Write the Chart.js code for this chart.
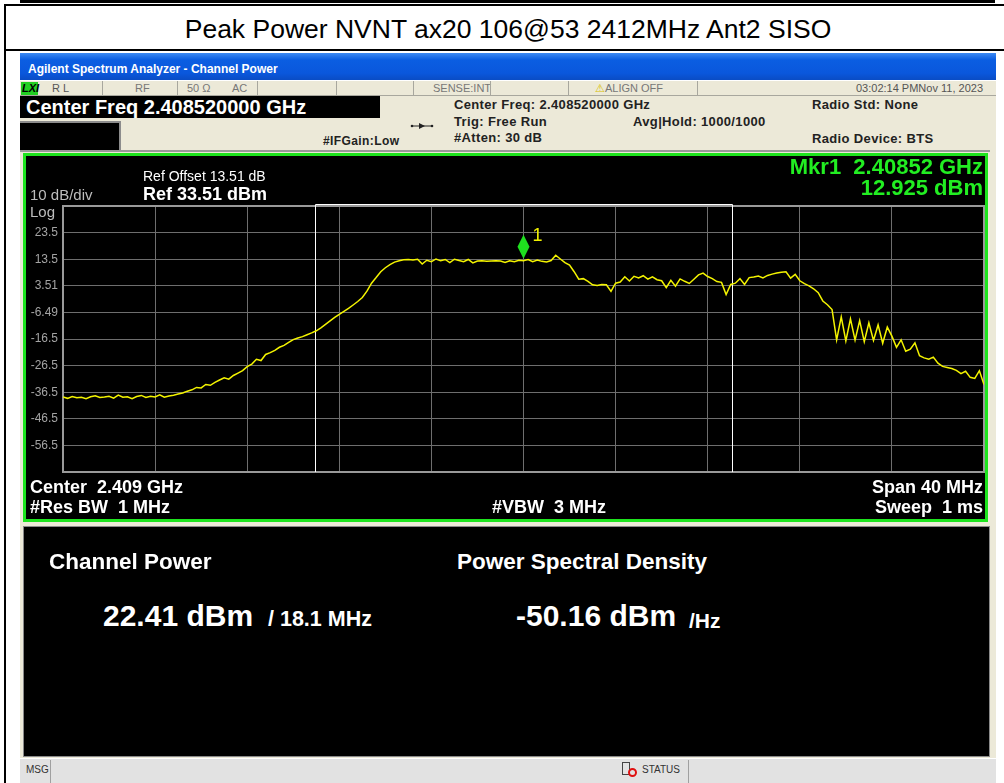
<!DOCTYPE html>
<html>
<head>
<meta charset="utf-8">
<script src="https://cdn.jsdelivr.net/npm/chart.js@4/dist/chart.umd.min.js"></script>
<style>
html, body { margin: 0; padding: 0; background: #fff; }
body { width: 1004px; height: 783px; position: relative; overflow: hidden;
       font-family: "Liberation Sans", Arial, sans-serif; }
.a { position: absolute; white-space: nowrap; }
.t { position: absolute; white-space: nowrap; transform: translateY(-50%); line-height: 1; }
.r { transform: translate(-100%, -50%); }
.b { font-weight: bold; }
.info { font-size: 13px; letter-spacing: 0.35px; color: #222; font-weight: bold; }
.sep { position: absolute; top: 81px; width: 1px; height: 14px; background: #a8a79e; }
#plot { position: absolute; left: 26px; top: 156px; }
</style>
</head>
<body>
<!-- document frame -->
<div class="a" style="left:20px;top:0;width:975px;height:3px;background:#000"></div>
<div class="a" style="left:5px;top:4px;width:999px;height:2px;background:#000"></div>
<div class="a" style="left:5px;top:49px;width:999px;height:2px;background:#000"></div>
<div class="a" style="left:4px;top:4px;width:2px;height:779px;background:#000"></div>
<div class="t" style="left:508px;top:29px;font-size:26.5px;color:#000;transform:translate(-50%,-50%)">Peak Power NVNT ax20 106@53 2412MHz Ant2 SISO</div>

<!-- analyser window -->
<div class="a" style="left:20px;top:53px;width:976px;height:730px;background:#ece9d8"></div>
<div class="a" style="left:20px;top:53px;width:976px;height:27px;background:linear-gradient(#3c8af3,#0b5ee2 25%,#0a57dc 75%,#0a4cc4)"></div>
<div class="t b" style="left:28px;top:69px;font-size:12px;color:#fff">Agilent Spectrum Analyzer - Channel Power</div>

<!-- status row -->
<div class="a" style="left:20px;top:80px;width:976px;height:1px;background:#fff"></div>
<div class="a" style="left:20px;top:95px;width:976px;height:1px;background:#a8a79e"></div>
<div class="a" style="left:21px;top:82px;width:17px;height:13px;background:#22d022"></div>
<div class="t b" style="left:22px;top:88px;font-size:11px;font-style:italic;color:#000">LXI</div>
<div class="t" style="left:52px;top:88px;font-size:11px;color:#555">R L</div>
<div class="sep" style="left:102px"></div>
<div class="t" style="left:135px;top:88px;font-size:11px;color:#777">RF</div>
<div class="sep" style="left:177px"></div>
<div class="t" style="left:187px;top:88px;font-size:11px;color:#777">50 Ω</div>
<div class="t" style="left:232px;top:88px;font-size:11px;color:#777">AC</div>
<div class="sep" style="left:257px"></div>
<div class="sep" style="left:336px"></div>
<div class="sep" style="left:413px"></div>
<div class="t" style="left:433px;top:88px;font-size:11px;color:#777">SENSE:INT</div>
<div class="sep" style="left:490px"></div>
<div class="sep" style="left:568px"></div>
<div class="t" style="left:595px;top:88px;font-size:11px;color:#777"><span style="color:#d8c000">⚠</span>ALIGN OFF</div>
<div class="sep" style="left:697px"></div>
<div class="t r" style="left:983px;top:88px;font-size:11px;color:#555">03:02:14 PMNov 11, 2023</div>

<!-- info block -->
<div class="a" style="left:20px;top:96px;width:360px;height:22px;background:#000"></div>
<div class="t b" style="left:26px;top:107px;font-size:20px;color:#fff">Center Freq 2.408520000 GHz</div>
<div class="a" style="left:20px;top:121px;width:99px;height:27px;background:#000;border-top:2px solid #8c8c8c;border-right:2px solid #8c8c8c"></div>
<div class="t b" style="left:323px;top:141px;font-size:12px;letter-spacing:0.4px;color:#222">#IFGain:Low</div>
<svg class="a" style="left:410px;top:122px" width="24" height="8">
  <line x1="1" y1="4" x2="23" y2="4" stroke="#222" stroke-width="1"/>
  <polygon points="9,1 15,4 9,7" fill="#222"/>
  <circle cx="2" cy="4" r="1.3" fill="#222"/><circle cx="22" cy="4" r="1.3" fill="#222"/>
</svg>
<div class="t info" style="left:454px;top:104px">Center Freq: 2.408520000 GHz</div>
<div class="t info" style="left:454px;top:121px">Trig: Free Run</div>
<div class="t info" style="left:454px;top:137px">#Atten: 30 dB</div>
<div class="t info" style="left:633px;top:121px">Avg|Hold: 1000/1000</div>
<div class="t info" style="left:812px;top:104px">Radio Std: None</div>
<div class="t info" style="left:812px;top:138px">Radio Device: BTS</div>

<!-- trace panel -->
<div class="a" style="left:20px;top:150px;width:970px;height:2px;background:#9a9a9a"></div>
<div class="a" style="left:23px;top:153px;width:965px;height:369px;box-sizing:border-box;border:3px solid #1ee41e;background:#000"></div>
<canvas id="plot" width="959" height="363"></canvas>
<div class="t" style="left:143px;top:176px;font-size:14px;color:#fff">Ref Offset 13.51 dB</div>
<div class="t b" style="left:143px;top:194px;font-size:18px;color:#fff">Ref 33.51 dBm</div>
<div class="t" style="left:30px;top:194px;font-size:15px;color:#bdbdbd">10 dB/div</div>
<div class="t" style="left:30px;top:211px;font-size:15px;color:#bdbdbd">Log</div>
<div class="t b r" style="left:983px;top:167px;font-size:22px;color:#22ee22">Mkr1&nbsp; 2.40852 GHz</div>
<div class="t b r" style="left:983px;top:188px;font-size:22px;color:#22ee22">12.925 dBm</div>
<div class="t b" style="left:30px;top:487px;font-size:18px;color:#fff">Center&nbsp; 2.409 GHz</div>
<div class="t b" style="left:30px;top:507px;font-size:18px;color:#fff">#Res BW&nbsp; 1 MHz</div>
<div class="t b" style="left:492px;top:507px;font-size:18px;color:#fff">#VBW&nbsp; 3 MHz</div>
<div class="t b r" style="left:983px;top:487px;font-size:18px;color:#fff">Span 40 MHz</div>
<div class="t b r" style="left:983px;top:507px;font-size:18px;color:#fff">Sweep&nbsp; 1 ms</div>

<!-- result panel -->
<div class="a" style="left:23px;top:526px;width:967px;height:231px;box-sizing:border-box;border:1px solid #8a8a8a;background:#000"></div>
<div class="t b" style="left:49px;top:562px;font-size:22.5px;color:#fff">Channel Power</div>
<div class="t b" style="left:103px;top:616px;font-size:30px;color:#fff">22.41 dBm</div>
<div class="t b" style="left:268px;top:620px;font-size:21.5px;color:#fff">/ 18.1 MHz</div>
<div class="t b" style="left:457px;top:562px;font-size:22.5px;color:#fff">Power Spectral Density</div>
<div class="t b" style="left:516px;top:616px;font-size:30px;color:#fff">-50.16 dBm</div>
<div class="t b" style="left:689px;top:620px;font-size:21px;color:#fff">/Hz</div>

<!-- message bar -->
<div class="a" style="left:20px;top:758px;width:976px;height:25px;background:#e2e2e2;border-top:1px solid #fff"></div>
<div class="a" style="left:50px;top:760px;width:1px;height:23px;background:#a0a0a0"></div>
<div class="t" style="left:26px;top:770px;font-size:10px;color:#333">MSG</div>
<div class="a" style="left:622px;top:762px;width:8px;height:13px;border:1px solid #444;box-sizing:border-box"></div>
<div class="a" style="left:628px;top:768px;width:9px;height:9px;border-radius:50%;border:2px solid #e01010;box-sizing:border-box"></div>
<div class="t" style="left:642px;top:770px;font-size:10px;color:#333">STATUS</div>
<div class="a" style="left:688px;top:760px;width:1px;height:23px;background:#a0a0a0"></div>

<script>
// Sweep: 2.389 .. 2.429 GHz, trace read every 0.2 MHz
const SPAN_START_GHZ = 2.389;
const SPAN_STOP_GHZ = 2.429;
const TRACE_STEP_GHZ = 0.0002;

const traceDbm = [
    -38.3, -38.8, -38.1, -38.6, -38.4, -38.9, -38.2, -37.8, -38.5, -38.3,
    -38.0, -38.7, -37.6, -38.4, -38.2, -38.9, -38.1, -37.7, -38.5, -38.0,
    -38.3, -37.5, -38.4, -37.9, -37.6, -37.2, -36.8, -36.1, -35.6, -34.7,
    -34.9, -33.6, -33.9, -32.8, -31.9, -31.1, -31.6, -30.2, -29.3, -28.4,
    -26.9, -25.9, -24.1, -24.6, -22.3, -21.6, -20.8, -19.6, -18.9, -17.8,
    -16.7, -16.1, -15.6, -14.9, -14.2, -13.4, -12.3, -11.0, -9.7, -8.4,
    -7.2, -6.1, -5.0, -3.7, -2.4, -0.9, 1.5, 4.5, 6.6, 8.8,
    10.3, 11.5, 12.4, 12.9, 13.3, 13.4, 13.2, 13.5, 11.7, 13.1,
    12.6, 13.6, 12.9, 13.4, 12.2, 13.5, 13.0, 12.6, 13.4, 12.1,
    12.8, 12.9, 12.7, 12.8, 12.9, 12.8, 12.3, 12.9, 12.6, 13.1,
    12.9, 13.4, 12.6, 13.2, 12.7, 12.5, 13.0, 15.0, 13.6, 12.2,
    11.3, 8.8, 6.0, 6.2, 5.2, 3.9, 3.6, 4.0, 3.9, 1.4,
    4.5, 4.9, 6.9, 5.3, 7.1, 6.5, 7.3, 6.0, 6.9, 5.8,
    5.4, 2.8, 5.6, 3.4, 6.1, 5.2, 4.4, 6.0, 7.6, 8.3,
    7.0, 6.2, 5.1, 4.8, 0.2, 4.0, 4.5, 6.2, 4.0, 6.6,
    6.8, 7.2, 6.5, 7.4, 7.9, 8.3, 8.6, 8.8, 6.4, 7.8,
    5.4, 4.3, 3.5, 2.4, 0.9, -2.2, -3.6, -5.4, -16.8, -8.2,
    -17.2, -8.9, -16.9, -9.6, -17.5, -10.4, -17.0, -11.2, -18.1, -12.0,
    -15.4, -19.6, -16.8, -21.1, -20.3, -17.9, -22.8, -23.6, -24.1, -23.3,
    -25.6, -26.8, -27.2, -27.6, -28.3, -29.5, -28.6, -30.9, -31.3, -28.4,
    -33.6
];

// Graticule (10 dB/div, ref 33.51 dBm)
const yTickValues = [-66.49, -56.49, -46.49, -36.49, -26.49, -16.49, -6.49, 3.51, 13.51, 23.51, 33.51];
const yTickLabels = ['', '-56.5', '-46.5', '-36.5', '-26.5', '-16.5', '-6.49', '3.51', '13.5', '23.5', ''];
const xGridGHz = [2.389, 2.393, 2.397, 2.401, 2.405, 2.409, 2.413, 2.417, 2.421, 2.425, 2.429];

// Channel power integration edges (18.1 MHz) and marker 1
const channelEdgesGHz = [2.39995, 2.41805];
const markerGHz = 2.40900;
const markerDbm = 12.925;

const FONT = '"Liberation Sans", Arial, sans-serif';

// box + channel bracket
const graticulePlugin = {
    id: 'graticule',
    beforeDatasetsDraw(chart) {
        const { ctx, chartArea: a, scales } = chart;
        ctx.save();
        ctx.strokeStyle = '#9a9a9a';
        ctx.lineWidth = 2;
        ctx.strokeRect(a.left, a.top, a.right - a.left, a.bottom - a.top);

        const x1 = Math.round(scales.x.getPixelForValue(channelEdgesGHz[0])) + 0.5;
        const x2 = Math.round(scales.x.getPixelForValue(channelEdgesGHz[1])) + 0.5;
        ctx.strokeStyle = '#ffffff';
        ctx.lineWidth = 1;
        ctx.beginPath();
        ctx.moveTo(x1, a.bottom);
        ctx.lineTo(x1, a.top - 1.5);
        ctx.lineTo(x2, a.top - 1.5);
        ctx.lineTo(x2, a.bottom);
        ctx.stroke();
        ctx.restore();
    }
};

// marker diamond
const markerPlugin = {
    id: 'marker',
    afterDatasetsDraw(chart) {
        const { ctx, scales } = chart;
        const px = scales.x.getPixelForValue(markerGHz);
        const py = scales.y.getPixelForValue(markerDbm);
        ctx.save();
        ctx.fillStyle = '#1fe01f';
        ctx.beginPath();
        ctx.moveTo(px, py - 26);
        ctx.lineTo(px + 6, py - 14);
        ctx.lineTo(px, py - 2);
        ctx.lineTo(px - 6, py - 14);
        ctx.closePath();
        ctx.fill();
        ctx.fillStyle = '#f0f000';
        ctx.font = '18px ' + FONT;
        ctx.textBaseline = 'middle';
        ctx.fillText('1', px + 9, py - 25);
        ctx.restore();
    }
};

const ctx = document.getElementById('plot').getContext('2d');
new Chart(ctx, {
    type: 'line',
    data: {
        datasets: [{
            label: 'Trace 1',
            data: traceDbm.map((v, i) => ({ x: SPAN_START_GHZ + i * TRACE_STEP_GHZ, y: v })),
            borderColor: '#f4f400',
            borderWidth: 1.5,
            pointRadius: 0,
            tension: 0
        }]
    },
    options: {
        responsive: false,
        animation: false,
        events: [],
        layout: { padding: { left: 0, top: 50, right: 1, bottom: 47 } },
        plugins: { legend: { display: false }, tooltip: { enabled: false } },
        scales: {
            x: {
                type: 'linear',
                min: SPAN_START_GHZ,
                max: SPAN_STOP_GHZ,
                afterBuildTicks: s => { s.ticks = xGridGHz.map(v => ({ value: v })); },
                afterFit: s => { s.height = 0; },
                ticks: { display: false },
                grid: { color: '#6e6e6e', drawTicks: false },
                border: { display: false }
            },
            y: {
                min: yTickValues[0],
                max: yTickValues[yTickValues.length - 1],
                afterBuildTicks: s => { s.ticks = yTickValues.map(v => ({ value: v })); },
                afterFit: s => { s.width = 37; },
                ticks: {
                    autoSkip: false,
                    padding: 5,
                    color: '#a4a4a4',
                    font: { family: FONT, size: 12 },
                    callback: (v, i) => yTickLabels[i]
                },
                grid: { color: '#6e6e6e', drawTicks: false },
                border: { display: false }
            }
        }
    },
    plugins: [graticulePlugin, markerPlugin]
});
</script>
</body>
</html>
